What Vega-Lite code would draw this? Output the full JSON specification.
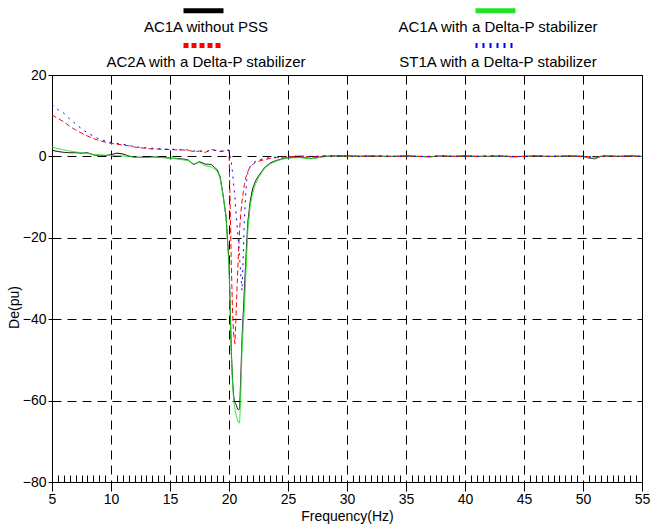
{
  "$schema": "https://vega.github.io/schema/vega-lite/v6.json",
  "width": 590,
  "height": 407,
  "autosize": {"type": "none"},
  "padding": {"left": 52, "top": 75, "right": 9, "bottom": 49},
  "background": "white",
  "config": {
    "font": "Liberation Sans",
    "view": {"stroke": "black", "strokeWidth": 1},
    "axis": {
      "domainColor": "#000000",
      "tickColor": "#000000",
      "labelColor": "#000000",
      "titleColor": "#000000",
      "labelFontSize": 14,
      "titleFontSize": 14,
      "titleFontWeight": "normal",
      "grid": true,
      "gridColor": "#000000",
      "gridDash": [9, 6],
      "gridWidth": 1
    }
  },
  "data": {
    "values": [
      {"f": 5, "a": 1.5, "b": 2.3, "c": 10.2, "d": 12.8},
      {"f": 5.5, "a": 1.2, "b": 1.9, "c": 9.3, "d": 11.5},
      {"f": 6, "a": 1.0, "b": 1.6, "c": 8.5, "d": 10.6},
      {"f": 6.5, "a": 0.9, "b": 1.3, "c": 7.4, "d": 9.2},
      {"f": 7, "a": 0.9, "b": 1.1, "c": 6.5, "d": 8.0},
      {"f": 7.5, "a": 0.8, "b": 0.9, "c": 5.7, "d": 6.8},
      {"f": 8, "a": 0.9, "b": 0.7, "c": 5.0, "d": 5.8},
      {"f": 8.5, "a": 0.4, "b": 0.5, "c": 4.4, "d": 5.0},
      {"f": 9, "a": 0.1, "b": 0.4, "c": 3.9, "d": 4.3},
      {"f": 9.5, "a": 0.2, "b": 0.3, "c": 3.5, "d": 3.8},
      {"f": 10, "a": 0.4, "b": 0.2, "c": 3.2, "d": 3.5},
      {"f": 10.5, "a": 0.8, "b": 0.2, "c": 3.0, "d": 3.2},
      {"f": 11, "a": 0.6, "b": 0.1, "c": 2.8, "d": 3.0},
      {"f": 11.5, "a": 0.1, "b": 0.0, "c": 2.6, "d": 2.7},
      {"f": 12, "a": -0.2, "b": -0.2, "c": 2.3, "d": 2.4},
      {"f": 12.5, "a": -0.2, "b": -0.3, "c": 2.1, "d": 2.2},
      {"f": 13, "a": -0.2, "b": -0.3, "c": 2.0, "d": 2.1},
      {"f": 13.5, "a": -0.1, "b": -0.2, "c": 1.8, "d": 2.0},
      {"f": 14, "a": -0.2, "b": -0.2, "c": 1.8, "d": 1.9},
      {"f": 14.5, "a": -0.3, "b": -0.3, "c": 1.7, "d": 1.8},
      {"f": 15, "a": -0.4, "b": -0.4, "c": 1.7, "d": 1.8},
      {"f": 15.5, "a": -0.5, "b": -0.6, "c": 1.6, "d": 1.7},
      {"f": 16, "a": -0.6, "b": -0.8, "c": 1.6, "d": 1.6},
      {"f": 16.5, "a": -0.8, "b": -1.0, "c": 1.5, "d": 1.6},
      {"f": 17, "a": -2.0, "b": -1.8, "c": 1.2, "d": 1.3},
      {"f": 17.5, "a": -1.3, "b": -1.5, "c": 1.3, "d": 1.4},
      {"f": 18, "a": -1.9, "b": -2.3, "c": 1.0, "d": 1.1},
      {"f": 18.5, "a": -2.0, "b": -2.6, "c": 1.7, "d": 1.6},
      {"f": 19, "a": -3.3, "b": -3.6, "c": 1.4, "d": 1.4},
      {"f": 19.25, "a": -5.0, "b": -5.5, "c": 1.2, "d": 1.3},
      {"f": 19.5, "a": -9.5, "b": -9.8, "c": 1.3, "d": 1.3},
      {"f": 19.75, "a": -15.0, "b": -14.5, "c": 1.4, "d": 1.4},
      {"f": 20, "a": -26.0, "b": -27.0, "c": 1.6, "d": 1.5},
      {"f": 20.1, "a": -37.0, "b": -38.0, "c": -12.0, "d": 0.0},
      {"f": 20.2, "a": -48.0, "b": -49.0, "c": -27.0, "d": -1.5},
      {"f": 20.3, "a": -55.0, "b": -56.0, "c": -38.0, "d": -4.0},
      {"f": 20.4, "a": -59.0, "b": -60.0, "c": -44.0, "d": -7.0},
      {"f": 20.5, "a": -60.5, "b": -62.0, "c": -46.0, "d": -10.0},
      {"f": 20.6, "a": -61.0, "b": -63.5, "c": -39.0, "d": -14.0},
      {"f": 20.7, "a": -61.8, "b": -64.5, "c": -31.0, "d": -17.5},
      {"f": 20.8, "a": -62.3, "b": -65.3, "c": -24.0, "d": -21.0},
      {"f": 20.9, "a": -62.0, "b": -65.5, "c": -18.0, "d": -25.0},
      {"f": 21.0, "a": -54.0, "b": -58.0, "c": -14.0, "d": -29.0},
      {"f": 21.1, "a": -45.0, "b": -48.0, "c": -11.0, "d": -33.0},
      {"f": 21.2, "a": -39.0, "b": -42.0, "c": -9.0, "d": -25.0},
      {"f": 21.3, "a": -33.0, "b": -37.5, "c": -7.0, "d": -16.0},
      {"f": 21.4, "a": -27.0, "b": -31.0, "c": -5.5, "d": -10.0},
      {"f": 21.5, "a": -21.0, "b": -24.0, "c": -4.5, "d": -6.0},
      {"f": 21.6, "a": -16.0, "b": -18.0, "c": -3.7, "d": -4.0},
      {"f": 21.8, "a": -11.0, "b": -12.0, "c": -2.5, "d": -2.5},
      {"f": 22, "a": -8.0, "b": -9.0, "c": -2.0, "d": -1.7},
      {"f": 22.25, "a": -6.0, "b": -6.8, "c": -1.5, "d": -1.2},
      {"f": 22.5, "a": -4.8, "b": -5.2, "c": -1.2, "d": -0.9},
      {"f": 23, "a": -2.8, "b": -3.0, "c": -0.8, "d": -0.5},
      {"f": 23.5, "a": -1.6, "b": -1.8, "c": -0.5, "d": -0.3},
      {"f": 24, "a": -1.0, "b": -1.2, "c": -0.3, "d": -0.2},
      {"f": 24.5, "a": -0.6, "b": -0.7, "c": -0.2, "d": -0.1},
      {"f": 25, "a": -0.3, "b": -0.4, "c": -0.1, "d": 0.0},
      {"f": 26, "a": -0.2, "b": -0.3, "c": 0.1, "d": 0.1},
      {"f": 27, "a": -0.5, "b": -0.6, "c": -0.1, "d": 0.0},
      {"f": 28, "a": 0.0, "b": -0.1, "c": 0.1, "d": 0.1},
      {"f": 29, "a": 0.1, "b": 0.1, "c": 0.1, "d": 0.1},
      {"f": 30, "a": 0.1, "b": 0.0, "c": 0.1, "d": 0.1},
      {"f": 31, "a": 0.0, "b": 0.0, "c": 0.1, "d": 0.0},
      {"f": 32, "a": 0.1, "b": 0.1, "c": 0.0, "d": 0.1},
      {"f": 33, "a": 0.0, "b": 0.0, "c": 0.1, "d": 0.1},
      {"f": 34, "a": 0.0, "b": 0.0, "c": 0.0, "d": 0.0},
      {"f": 35, "a": 0.1, "b": 0.1, "c": 0.1, "d": 0.1},
      {"f": 36, "a": 0.0, "b": 0.0, "c": 0.0, "d": 0.0},
      {"f": 37, "a": -0.1, "b": -0.1, "c": 0.0, "d": 0.0},
      {"f": 38, "a": 0.1, "b": 0.1, "c": 0.1, "d": 0.1},
      {"f": 39, "a": 0.0, "b": 0.0, "c": 0.0, "d": 0.0},
      {"f": 40, "a": 0.1, "b": 0.1, "c": 0.1, "d": 0.1},
      {"f": 41, "a": 0.0, "b": 0.0, "c": 0.0, "d": 0.0},
      {"f": 42, "a": 0.0, "b": 0.0, "c": 0.1, "d": 0.1},
      {"f": 43, "a": 0.1, "b": 0.1, "c": 0.1, "d": 0.0},
      {"f": 44, "a": -0.1, "b": -0.1, "c": 0.0, "d": 0.0},
      {"f": 45, "a": 0.0, "b": 0.0, "c": 0.0, "d": 0.0},
      {"f": 46, "a": 0.1, "b": 0.1, "c": 0.1, "d": 0.1},
      {"f": 47, "a": 0.0, "b": 0.0, "c": 0.0, "d": 0.0},
      {"f": 48, "a": 0.0, "b": 0.0, "c": 0.1, "d": 0.0},
      {"f": 49, "a": 0.1, "b": 0.1, "c": 0.1, "d": 0.1},
      {"f": 50, "a": 0.0, "b": 0.0, "c": 0.0, "d": 0.0},
      {"f": 50.5, "a": -0.4, "b": -0.3, "c": -0.1, "d": -0.1},
      {"f": 51, "a": -0.6, "b": -0.4, "c": -0.1, "d": -0.1},
      {"f": 51.5, "a": 0.0, "b": 0.0, "c": 0.0, "d": 0.0},
      {"f": 52, "a": 0.1, "b": 0.1, "c": 0.1, "d": 0.1},
      {"f": 53, "a": 0.0, "b": 0.0, "c": 0.0, "d": 0.0},
      {"f": 54, "a": 0.1, "b": 0.1, "c": 0.1, "d": 0.1},
      {"f": 55, "a": 0.0, "b": 0.0, "c": 0.0, "d": 0.0}
    ]
  },
  "transform": [{"fold": ["a", "b", "c", "d"], "as": ["key", "v"]}],
  "mark": {"type": "line", "strokeWidth": 1},
  "encoding": {
    "x": {
      "field": "f",
      "type": "quantitative",
      "scale": {"domain": [5, 55], "nice": false, "zero": false},
      "title": "Frequency(Hz)",
      "axis": {
        "values": [5,5.5,6,6.5,7,7.5,8,8.5,9,9.5,10,10.5,11,11.5,12,12.5,13,13.5,14,14.5,15,15.5,16,16.5,17,17.5,18,18.5,19,19.5,20,20.5,21,21.5,22,22.5,23,23.5,24,24.5,25,25.5,26,26.5,27,27.5,28,28.5,29,29.5,30,30.5,31,31.5,32,32.5,33,33.5,34,34.5,35,35.5,36,36.5,37,37.5,38,38.5,39,39.5,40,40.5,41,41.5,42,42.5,43,43.5,44,44.5,45,45.5,46,46.5,47,47.5,48,48.5,49,49.5,50,50.5,51,51.5,52,52.5,53,53.5,54,54.5,55],
        "labelExpr": "datum.value % 5 === 0 ? format(datum.value, 'd') : ''",
        "labelOverlap": false,
        "labelFlush": false,
        "tickSize": {"condition": {"test": "datum.value % 5 === 0", "value": 9}, "value": -7},
        "gridOpacity": {"condition": {"test": "datum.value % 5 === 0", "value": 1}, "value": 0},
        "labelPadding": 1,
        "titlePadding": 3
      }
    },
    "y": {
      "field": "v",
      "type": "quantitative",
      "scale": {"domain": [-80, 20], "nice": false},
      "title": "De(pu)",
      "axis": {
        "values": [-80, -60, -40, -20, 0, 20],
        "tickSize": 4,
        "labelPadding": 2,
        "titleX": -31,
        "titleY": 232
      }
    },
    "color": {
      "field": "key",
      "type": "nominal",
      "scale": {"domain": ["a", "c", "b", "d"], "range": ["#000000", "#ff0000", "#1ee61e", "#0000ff"]},
      "legend": {
        "orient": "none",
        "legendX": 139,
        "legendY": -73,
        "columns": 2,
        "columnPadding": 90,
        "rowPadding": 0,
        "symbolType": "M-2,-0.4H2",
        "symbolSize": 400,
        "symbolStrokeWidth": 5,
        "labelAlign": "center",
        "labelBaseline": "alphabetic",
        "labelOffset": -10,
        "labelFontSize": 15,
        "labelLimit": 0,
        "labelColor": "#000000",
        "title": null,
        "labelExpr": "['', datum.label === 'a' ? 'AC1A without PSS' : datum.label === 'b' ? 'AC1A with a Delta-P stabilizer' : datum.label === 'c' ? 'AC2A with a Delta-P stabilizer' : 'ST1A with a Delta-P stabilizer']"
      }
    },
    "strokeDash": {
      "field": "key",
      "type": "nominal",
      "scale": {"domain": ["a", "c", "b", "d"], "range": [[1, 0], [5, 3], [1, 0], [2, 5]]}
    }
  }
}
